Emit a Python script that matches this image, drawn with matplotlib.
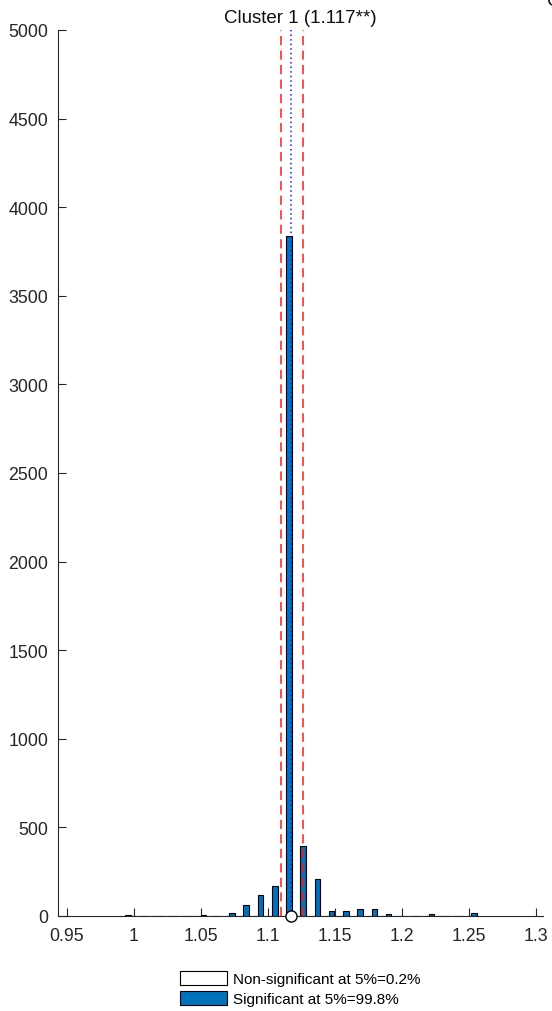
import matplotlib
matplotlib.use("Agg")
import matplotlib.pyplot as plt
from matplotlib.patches import Patch
from matplotlib.ticker import FuncFormatter

plt.rcParams['font.family'] = ['Liberation Sans', 'DejaVu Sans']

# ---- data ----
bin_centers = [0.9970, 1.0076, 1.0183, 1.0289, 1.0395, 1.0502, 1.0608, 1.0714,
               1.0820, 1.0927, 1.1033, 1.1139, 1.1246, 1.1352, 1.1458, 1.1565,
               1.1671, 1.1777, 1.1883, 1.1990, 1.2096, 1.2202, 1.2309, 1.2415,
               1.2521]
nonsig_counts = [5, 0, 0, 0, 0, 0, 0, 0, 0, 0, 0, 0, 0, 0, 0, 0,
                 0, 0, 0, 0, 0, 0, 0, 0, 0]
sig_counts = [0, 0, 0, 0, 0, 4, 0, 18, 62, 119, 170, 3840, 396, 207, 27, 30,
              38, 40, 10, 0, 0, 12, 0, 0, 15]
estimate = 1.117
ci_low, ci_high = 1.1097, 1.1261
title = "Cluster 1 (1.117**)"
legend_labels = ["Non-significant at 5%=0.2%", "Significant at 5%=99.8%"]
xticks = [0.95, 1.0, 1.05, 1.1, 1.15, 1.2, 1.25, 1.3]
yticks = list(range(0, 5001, 500))

W, H = 552, 1012
fig = plt.figure(figsize=(W / 100, H / 100), dpi=100)
ax = fig.add_axes([58 / W, 1 - 917 / H, (543 - 58) / W, (917 - 31) / H])

bw = 0.0042
off = 0.0017
blue = '#0072BD'
xs_n = [c - off for c in bin_centers]
xs_s = [c + off for c in bin_centers]
ax.bar(xs_n, nonsig_counts, width=bw, color='white', edgecolor='black',
       linewidth=0.8, zorder=2)
ax.bar(xs_s, sig_counts, width=bw, color=blue, edgecolor='black',
       linewidth=0.8, zorder=2)

ax.axvline(ci_low, color='#FF1A1A', linestyle=(0, (6, 3.5)), linewidth=1.1, zorder=3)
ax.axvline(ci_high, color='#FF1A1A', linestyle=(0, (6, 3.5)), linewidth=1.1, zorder=3)
ax.axvline(estimate, color='#1A1AFF', linestyle=(0, (1, 2)), linewidth=1.1, zorder=3)
ax.plot([estimate], [0], marker='o', markersize=8, markerfacecolor='white',
        markeredgecolor='black', markeredgewidth=1.0, clip_on=False, zorder=5)

ax.set_xlim(0.9433, 1.3052)
ax.set_ylim(0, 5000)
ax.set_xticks(xticks)
ax.set_yticks(yticks)
ax.xaxis.set_major_formatter(FuncFormatter(lambda v, p: ('%g' % round(v, 4))))
ax.yaxis.set_major_formatter(FuncFormatter(lambda v, p: '%d' % v))

for s in ['top', 'right']:
    ax.spines[s].set_visible(False)
for s in ['left', 'bottom']:
    ax.spines[s].set_color('#262626')
    ax.spines[s].set_linewidth(0.8)
ax.tick_params(direction='in', length=6, width=0.8, color='#262626',
               labelsize=12.8, labelcolor='#262626')
ax.tick_params(axis='x', pad=8)
ax.tick_params(axis='y', pad=7)

ax.set_title(title, fontsize=13.5, pad=6, color='#111111')

handles = [Patch(facecolor='white', edgecolor='black', linewidth=0.8),
           Patch(facecolor=blue, edgecolor='black', linewidth=0.8)]
fig.legend(handles, legend_labels, loc='upper left',
           bbox_to_anchor=(180 / W, 1 - 972 / H), frameon=False, fontsize=11,
           handlelength=3.1, handleheight=1.0, handletextpad=0.35,
           labelspacing=0.35, borderpad=0, borderaxespad=0)

fig.text(547 / W, 1 - 2 / H, 'C', fontsize=13.5, ha='left', va='center',
         color='#111111')

fig.savefig('out.png', dpi=100)
